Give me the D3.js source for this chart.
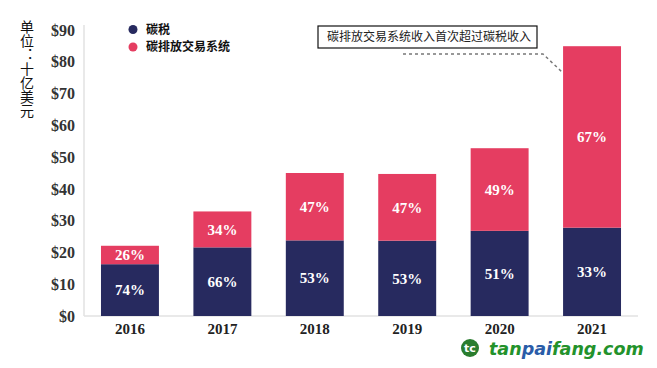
<!DOCTYPE html>
<html><head><meta charset="utf-8">
<script src="https://cdn.jsdelivr.net/npm/d3@7"></script>
<style>
html,body{margin:0;padding:0;background:#fff;}
svg{display:block;}
</style></head>
<body>
<svg id="chart" width="657" height="368"></svg>
<script>
const years = ["2016","2017","2018","2019","2020","2021"];
const carbonTax = [16.3, 21.6, 23.8, 23.7, 26.8, 27.8];
const ets = [5.8, 11.3, 21.2, 21.0, 26.0, 57.1];
const taxPct = ["74%","66%","53%","53%","51%","33%"];
const etsPct = ["26%","34%","47%","47%","49%","67%"];
const yTicks = [0,10,20,30,40,50,60,70,80,90];
const seriesNames = ["碳税","碳排放交易系统"];
const colors = ["#272a5f","#e53d61"];

const svg = d3.select("#chart");
const y = d3.scaleLinear().domain([0,90]).range([316,30]);
const x = d3.scaleBand().domain(years).range([83.75,638.25]).paddingInner(0.373).paddingOuter(0.1865);
const serif = "'Liberation Serif','DejaVu Serif',serif";
const cjk = "'Noto Sans CJK SC','Noto Sans',sans-serif";

// axis lines
svg.append("line").attr("x1",84).attr("x2",84).attr("y1",25).attr("y2",y(0)).attr("stroke","#e2e2e2").attr("stroke-width",1.5);
svg.append("line").attr("x1",84).attr("x2",638).attr("y1",y(0)).attr("y2",y(0)).attr("stroke","#e2e2e2").attr("stroke-width",1.5);

// y axis
const yAxis = d3.axisLeft(y).tickValues(yTicks).tickFormat(d=>"$"+d).tickSize(0).tickPadding(0);
const ya = svg.append("g").attr("transform","translate(75,0)").call(yAxis);
ya.select(".domain").remove();
ya.selectAll("text").attr("font-family",serif).attr("font-size",16).attr("font-weight","bold").attr("fill","#333");

// x axis
const xAxis = d3.axisBottom(x).tickSize(0).tickPadding(0);
const xa = svg.append("g").attr("transform","translate(0,323)").call(xAxis);
xa.select(".domain").remove();
xa.selectAll("text").attr("font-family",serif).attr("font-size",15).attr("font-weight","bold").attr("fill","#222");

// stacked data
const rows = years.map((yr,i)=>({year:yr, tax:carbonTax[i], ets:ets[i]}));
const stack = d3.stack().keys(["tax","ets"])(rows);
const pcts = [taxPct, etsPct];
stack.forEach((layer,li)=>{
  const g = svg.append("g");
  g.selectAll("rect").data(layer).join("rect")
    .attr("x",d=>x(d.data.year)).attr("width",x.bandwidth())
    .attr("y",d=>y(d[1])).attr("height",d=>y(d[0])-y(d[1]))
    .attr("fill",colors[li]);
  g.selectAll("text").data(layer).join("text")
    .attr("x",d=>x(d.data.year)+x.bandwidth()/2)
    .attr("y",d=>(y(d[0])+y(d[1]))/2)
    .attr("dy","0.35em").attr("text-anchor","middle")
    .attr("font-family",serif).attr("font-weight","bold").attr("font-size",15)
    .attr("fill","#fff")
    .text((d,i)=>pcts[li][i]);
});

// legend
seriesNames.forEach((n,i)=>{
  svg.append("circle").attr("cx",133).attr("cy",29.5+i*17.5).attr("r",4.5).attr("fill",colors[i]);
  svg.append("text").attr("x",146).attr("y",29.5+i*17.5).attr("dy","0.35em")
    .attr("font-family",cjk).attr("font-weight","bold").attr("font-size",12).attr("fill","#111").text(n);
});

// y label (vertical)
svg.append("text").attr("x",27).attr("y",20)
  .style("writing-mode","vertical-rl").style("text-orientation","upright")
  .attr("font-family",cjk).attr("font-size",14).attr("fill","#111")
  .text("单位：十亿美元");

// annotation
svg.append("rect").attr("x",318).attr("y",26).attr("width",219).attr("height",22)
  .attr("fill","#fff").attr("stroke","#111").attr("stroke-width",1.2);
svg.append("text").attr("x",327).attr("y",37).attr("dy","0.35em")
  .attr("font-family",cjk).attr("font-size",12).attr("fill","#222")
  .text("碳排放交易系统收入首次超过碳税收入");
svg.append("path").attr("d",`M403,54 L543,54 L${x("2021")},73`)
  .attr("fill","none").attr("stroke","#777").attr("stroke-width",1.5).attr("stroke-dasharray","3,3");

// watermark
const wm = svg.append("g");
wm.append("circle").attr("cx",470).attr("cy",348).attr("r",9).attr("fill","#2a7d2e");
wm.append("text").attr("x",470).attr("y",348).attr("dy","0.35em").attr("text-anchor","middle")
  .attr("font-family","'DejaVu Sans',sans-serif").attr("font-weight","bold").attr("font-size",11).attr("fill","#fff").text("tc");
const wt = wm.append("text").attr("x",489).attr("y",355)
  .attr("font-family","'DejaVu Sans',sans-serif").attr("font-weight","bold").attr("font-style","italic").attr("font-size",17.5);
wt.append("tspan").attr("fill","#23922b").text("tan");
wt.append("tspan").attr("fill","#2a5ca8").text("pai");
wt.append("tspan").attr("fill","#23922b").text("fang.com");
</script>
</body></html>
